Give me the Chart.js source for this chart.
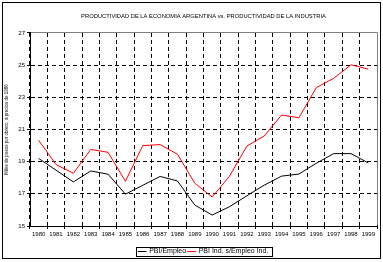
<!DOCTYPE html>
<html>
<head>
<meta charset="utf-8">
<script src="https://cdn.jsdelivr.net/npm/chart.js@4"></script>
<style>
  html, body { margin: 0; padding: 0; background: #fff; }
  #c { display: block; }
</style>
</head>
<body>
<canvas id="c" width="383" height="262"></canvas>
<script>
const years = ['1980','1981','1982','1983','1984','1985','1986','1987','1988','1989',
               '1990','1991','1992','1993','1994','1995','1996','1997','1998','1999'];
const pbiEmpleo = [19.2, 18.47, 17.74, 18.42, 18.22, 16.98, 17.53, 18.08, 17.8, 16.3,
                   15.68, 16.2, 16.88, 17.54, 18.1, 18.23, 18.9, 19.5, 19.5, 18.92];
const pbiIndEmpleoInd = [20.33, 18.82, 18.28, 19.76, 19.58, 17.78, 20.0, 20.06, 19.46, 17.66,
                         16.8, 18.1, 19.97, 20.6, 21.9, 21.73, 23.6, 24.18, 25.02, 24.75];
const yTicks = [15, 17, 19, 21, 23, 25, 27];

const FONT = 'Liberation Sans';

// white background, outer frame, gray top/right plot border, legend box
const frame = {
  id: 'frame',
  beforeDraw(chart) {
    const ctx = chart.ctx;
    ctx.save();
    ctx.fillStyle = '#fff';
    ctx.fillRect(0, 0, chart.width, chart.height);
    ctx.restore();
  },
  afterDraw(chart) {
    const ctx = chart.ctx;
    const a = chart.chartArea;
    const top = Math.round(a.top - 0.5) + 0.5;
    const right = Math.round(a.right - 0.5) + 0.5;
    ctx.save();
    ctx.lineWidth = 1;
    ctx.strokeStyle = '#808080';
    ctx.beginPath();
    ctx.moveTo(a.left + 1, top);
    ctx.lineTo(right, top);
    ctx.lineTo(right, a.bottom - 1);
    ctx.stroke();
    ctx.strokeStyle = '#000';
    ctx.strokeRect(2.5, 2.5, 378, 256);
    const hb = chart.legend.legendHitBoxes;
    if (hb && hb.length) {
      const l = Math.min(...hb.map(h => h.left)) - 3;
      const r = Math.max(...hb.map(h => h.left + h.width)) + 3;
      const t = Math.min(...hb.map(h => h.top)) - 1;
      const b = Math.max(...hb.map(h => h.top + h.height)) + 1;
      ctx.strokeRect(Math.round(l) + 0.5, Math.round(t) + 0.5, Math.round(r - l), Math.round(b - t));
    }
    ctx.restore();
  }
};

new Chart(document.getElementById('c'), {
  type: 'line',
  data: {
    labels: years,
    datasets: [
      {
        label: 'PBI/Empleo',
        data: pbiEmpleo,
        borderColor: '#000000',
        backgroundColor: '#000000',
        borderWidth: 1,
        pointRadius: 0,
        tension: 0
      },
      {
        label: 'PBI Ind. s/Empleo Ind.',
        data: pbiIndEmpleoInd,
        borderColor: '#ff0000',
        backgroundColor: '#ff0000',
        borderWidth: 1,
        pointRadius: 0,
        tension: 0
      }
    ]
  },
  options: {
    responsive: false,
    animation: false,
    layout: { padding: { left: 4, right: 6, top: 4, bottom: -3 } },
    scales: {
      x: {
        offset: true,
        grid: {
          offset: true,
          color: '#000',
          lineWidth: 1,
          tickLength: 3
        },
        border: { color: '#000', dash: [4, 3] },
        ticks: {
          color: '#000',
          font: { family: FONT, size: 6 },
          maxRotation: 0,
          autoSkip: false,
          padding: 2
        },
        afterFit(s) { s.height = 20; }
      },
      y: {
        min: 15,
        max: 27,
        afterBuildTicks(s) { s.ticks = yTicks.map(v => ({ value: v })); },
        grid: { color: '#000', lineWidth: 1, tickLength: 3 },
        border: { color: '#000', dash: [4, 3] },
        ticks: {
          color: '#000',
          font: { family: FONT, size: 6 },
          padding: 2
        },
        title: {
          display: true,
          text: 'Miles de pesos por obrero, a precios de 1986',
          color: '#000',
          font: { family: FONT, size: 4.5 },
          padding: { top: 0, bottom: 2 }
        },
        afterFit(s) { s.width = 26; }
      }
    },
    plugins: {
      title: {
        display: true,
        fullSize: false,
        text: 'PRODUCTIVIDAD DE LA ECONOMIA ARGENTINA vs. PRODUCTIVIDAD DE LA INDUSTRIA',
        color: '#000',
        font: { family: FONT, size: 5.8, weight: 'normal' },
        padding: { top: 9, bottom: 13 }
      },
      legend: {
        display: true,
        position: 'bottom',
        fullSize: false,
        labels: {
          color: '#000',
          font: { family: FONT, size: 7 },
          usePointStyle: true,
          pointStyle: 'line',
          boxWidth: 12,
          boxHeight: 6,
          padding: 2
        }
      },
      tooltip: { enabled: false }
    }
  },
  plugins: [frame]
});
</script>
</body>
</html>
